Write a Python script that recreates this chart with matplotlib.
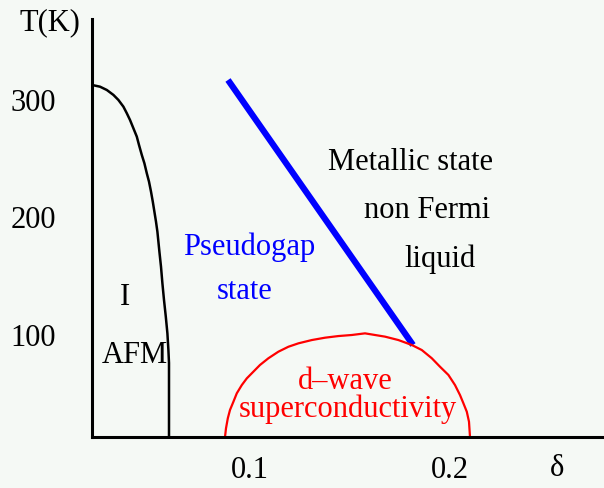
import numpy as np
import matplotlib.pyplot as plt

plt.rcParams['font.family'] = ['Liberation Serif', 'DejaVu Serif']

# antiferromagnetic boundary T_N(delta)
afm_delta = [0.0209, 0.025, 0.0284, 0.0317, 0.0342, 0.0367, 0.0384, 0.040,
             0.0417, 0.0434, 0.0445, 0.0459, 0.0472, 0.0484, 0.0495, 0.0505,
             0.0514, 0.0522, 0.053, 0.0537, 0.0542, 0.0547, 0.0555, 0.0562,
             0.057, 0.0579, 0.0587, 0.0592, 0.0595, 0.0595]
afm_T = [312.8, 311.3, 308.5, 304.3, 300.0, 294.3, 288.7, 283.0,
         275.9, 268.8, 261.7, 253.2, 246.1, 237.6, 230.5, 222.0,
         213.4, 204.9, 196.4, 187.9, 179.4, 170.9, 158.1, 144.0,
         129.8, 115.6, 101.4, 87.2, 76.2, 13.2]

# pseudogap crossover line T*(delta)
pg_delta = [0.089, 0.1815]
pg_T = [317.0, 91.5]

# superconducting dome Tc(delta)
sc_delta = [0.0875, 0.088, 0.0889, 0.090, 0.0917, 0.0934, 0.0959, 0.0984,
            0.1017, 0.105, 0.1092, 0.1142, 0.1192, 0.1242, 0.1309, 0.1375,
            0.1442, 0.1509, 0.1575, 0.1675, 0.1742, 0.1809, 0.1859, 0.1909,
            0.195, 0.1992, 0.2025, 0.205, 0.2067, 0.2084, 0.2095, 0.210]
sc_T = [13.2, 20.6, 29.1, 36.2, 43.2, 50.4, 57.4, 63.1,
        68.8, 74.5, 80.2, 85.8, 90.0, 92.9, 95.7, 97.7,
        99.1, 100.0, 101.4, 98.6, 95.7, 91.5, 87.2, 80.2,
        73.0, 66.0, 57.4, 48.9, 41.9, 34.7, 26.2, 13.2]

x_ticks = [0.1, 0.2]
x_labels = ['0.1', '0.2']
y_ticks = [100, 200, 300]
y_labels = ['100', '200', '300']

bg = '#f5f9f5'
fs = 22

fig = plt.figure(figsize=(6.04, 4.88), dpi=100, facecolor=bg)
ax = fig.add_axes([92/604, 51/488, 512/604, 418/488], facecolor=bg)

ax.plot(afm_delta, afm_T, color='black', lw=1.8, solid_capstyle='butt')
ax.plot(pg_delta, pg_T, color='#0000ff', lw=4.5, solid_capstyle='butt')
ax.plot(sc_delta, sc_T, color='#ff0000', lw=1.6)

ax.set_xlim(0.021, 0.277)
ax.set_ylim(13.2, 368.9)

for s in ['top', 'right']:
    ax.spines[s].set_visible(False)
for s in ['left', 'bottom']:
    ax.spines[s].set_linewidth(2.2)
    ax.spines[s].set_color('black')

ax.set_xticks(x_ticks)
ax.set_xticklabels(x_labels)
ax.set_yticks(y_ticks)
ax.set_yticklabels(y_labels)
ax.tick_params(axis='both', length=0, labelsize=fs)
ax.tick_params(axis='x', pad=14)
ax.tick_params(axis='y', pad=26)

txt = dict(fontsize=fs, ha='center', va='baseline', clip_on=False)
ax.text(0.0, 359.6, 'T(K)', **txt)
ax.text(0.2535, -20.0, 'δ', **txt)
ax.text(0.0375, 125.5, 'I', **txt)
ax.text(0.0425, 76.2, 'AFM', **txt)
ax.text(0.0995, 168.1, 'Pseudogap', color='#0000ff', **txt)
ax.text(0.0975, 130.6, 'state', color='#0000ff', **txt)
ax.text(0.1805, 240.4, 'Metallic state', **txt)
ax.text(0.1885, 199.6, 'non Fermi', **txt)
ax.text(0.195, 157.9, 'liquid', **txt)
ax.text(0.1475, 54.0, 'd\u2013wave', color='#ff0000', **txt)
ax.text(0.149, 30.2, 'superconductivity', color='#ff0000', **txt)

fig.savefig('out.png', dpi=100, facecolor=bg)
